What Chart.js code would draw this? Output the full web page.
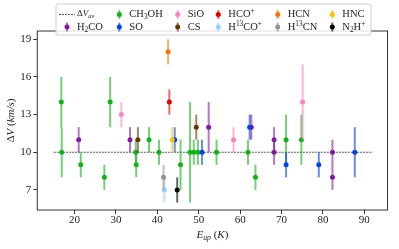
<!DOCTYPE html>
<html>
<head>
<meta charset="utf-8">
<script src="https://cdn.jsdelivr.net/npm/chart.js@4.4.1/dist/chart.umd.min.js"></script>
<style>
html, body { margin: 0; padding: 0; background: #fff; }
#wrap { width: 399px; height: 249px; }
</style>
</head>
<body>
<div id="wrap"><canvas id="grafico"></canvas></div>
<script>
// valores (E_up en K, dV en km/s, error en km/s)
const h2coX = [21.0, 33.4, 52.4, 62.7, 68.2, 68.2, 82.3, 82.3];
const h2coY = [11, 11, 12, 12, 11, 10, 10, 8];
const h2coErr = [1, 1, 2, 1, 1, 1, 1, 1];

const ch3ohX = [16.8, 16.9, 21.5, 27.2, 28.6, 34.8, 34.9, 38.0, 40.4, 45.6, 47.9, 48.8, 49.8, 54.3, 61.9, 63.7, 71.1, 74.8];
const ch3ohY = [14, 10, 9, 8, 14, 10, 9, 11, 10, 9, 10, 10, 10, 10, 10, 8, 11, 11];
const ch3ohErr = [2, 2, 1, 1, 2, 1, 1, 1, 1, 2, 4, 1, 1, 1, 1, 1, 2, 2];

const soX = [44.2, 50.8, 62.3, 71.1, 79.0, 87.7];
const soY = [11, 10, 12, 9, 9, 10];
const soErr = [1, 1, 1, 1, 1, 2];

const sioX = [31.3, 58.4, 75.1];
const sioY = [13, 11, 14];
const sioErr = [1, 1, 3];

const csX = [35.3, 49.4];
const csY = [11, 12];
const csErr = [1, 1];

const hcopX = [42.9];
const hcopY = [14];
const hcopErr = [1];

const h13copX = [41.7];
const h13copY = [7];
const h13copErr = [1];

const hcnX = [42.6];
const hcnY = [18];
const hcnErr = [1];

const h13cnX = [41.5];
const h13cnY = [8];
const h13cnErr = [1];

const hncX = [43.6];
const hncY = [11];
const hncErr = [1];

const n2hpX = [44.8];
const n2hpY = [7];
const n2hpErr = [1];

const promedioX = [15, 92];
const promedioY = 10;

const ticksX = [20, 30, 40, 50, 60, 70, 80, 90];
const ticksY = [7, 10, 13, 16, 19];

const especies = [
    { label: 'H_2CO', color: '#7e1e9c', xs: h2coX, ys: h2coY, err: h2coErr },
    { label: 'CH_3OH', color: '#15b01a', xs: ch3ohX, ys: ch3ohY, err: ch3ohErr },
    { label: 'SO', color: '#0343df', xs: soX, ys: soY, err: soErr },
    { label: 'SiO', color: '#ff81c0', xs: sioX, ys: sioY, err: sioErr },
    { label: 'CS', color: '#653700', xs: csX, ys: csY, err: csErr },
    { label: 'HCO^+', color: '#e50000', xs: hcopX, ys: hcopY, err: hcopErr },
    { label: 'H^{13}CO^+', color: '#95d0fc', xs: h13copX, ys: h13copY, err: h13copErr },
    { label: 'HCN', color: '#f97306', xs: hcnX, ys: hcnY, err: hcnErr },
    { label: 'H^{13}CN', color: '#929591', xs: h13cnX, ys: h13cnY, err: h13cnErr },
    { label: 'HNC', color: '#fac205', xs: hncX, ys: hncY, err: hncErr },
    { label: 'N_2H^+', color: '#000000', xs: n2hpX, ys: n2hpY, err: n2hpErr }
];

const fuente = '"Liberation Serif", "DejaVu Serif", serif';

function conAlfa(hex, a) {
    const n = parseInt(hex.slice(1), 16);
    return `rgba(${(n >> 16) & 255}, ${(n >> 8) & 255}, ${n & 255}, ${a})`;
}

// "CH_3OH" -> segmentos con subindices / superindices
function parseLabel(s) {
    const segs = [];
    let i = 0;
    while (i < s.length) {
        const c = s[i];
        if (c === '_' || c === '^') {
            let t;
            if (s[i + 1] === '{') {
                const j = s.indexOf('}', i);
                t = s.slice(i + 2, j);
                i = j + 1;
            } else {
                t = s[i + 1];
                i += 2;
            }
            segs.push({ t, pos: c === '_' ? 'sub' : 'sup' });
        } else {
            let j = i;
            while (j < s.length && s[j] !== '_' && s[j] !== '^') j++;
            segs.push({ t: s.slice(i, j), pos: 'n' });
            i = j;
        }
    }
    return segs;
}

function fontSeg(seg, size) {
    const sz = seg.pos === 'n' ? size : size * 0.7;
    return `${seg.it ? 'italic ' : ''}${sz}px ${fuente}`;
}

function anchoRich(ctx, segs, size) {
    let w = 0;
    segs.forEach(seg => {
        ctx.font = fontSeg(seg, size);
        w += ctx.measureText(seg.t).width;
    });
    return w;
}

function drawRich(ctx, segs, x, y, size, align) {
    let cx = align === 'center' ? x - anchoRich(ctx, segs, size) / 2 : x;
    ctx.textBaseline = 'middle';
    ctx.textAlign = 'left';
    segs.forEach(seg => {
        ctx.font = fontSeg(seg, size);
        let dy = 0;
        if (seg.pos === 'sub') dy = size * 0.28;
        if (seg.pos === 'sup') dy = -size * 0.32;
        ctx.fillText(seg.t, cx, y + dy);
        cx += ctx.measureText(seg.t).width;
    });
}

const datasets = [{
    type: 'line',
    label: 'promedio',
    data: promedioX.map(x => ({ x, y: promedioY })),
    borderColor: '#333333',
    borderWidth: 0.8,
    borderDash: [2, 1],
    pointRadius: 0,
    order: 20
}];

especies.forEach((e, k) => {
    datasets.push({
        type: 'scatter',
        label: e.label,
        data: e.xs.map((x, i) => ({ x, y: e.ys[i] })),
        yErr: e.err,
        barColor: conAlfa(e.color, 0.6),
        backgroundColor: e.color,
        borderColor: e.color,
        pointRadius: 2.5,
        pointBorderWidth: 0,
        pointHoverRadius: 2.5,
        order: especies.length - k
    });
});

const pluginErrores = {
    id: 'errores',
    beforeDatasetDraw(chart, args) {
        const ds = chart.data.datasets[args.index];
        if (!ds.yErr) return;
        const { ctx, scales: { x, y } } = chart;
        ctx.save();
        ctx.strokeStyle = ds.barColor;
        ctx.lineWidth = 2;
        ds.data.forEach((p, i) => {
            const px = x.getPixelForValue(p.x);
            ctx.beginPath();
            ctx.moveTo(px, y.getPixelForValue(p.y - ds.yErr[i]));
            ctx.lineTo(px, y.getPixelForValue(p.y + ds.yErr[i]));
            ctx.stroke();
        });
        ctx.restore();
    }
};

const pluginMarco = {
    id: 'marco',
    afterDraw(chart) {
        const { ctx, chartArea: a } = chart;
        ctx.save();
        ctx.strokeStyle = '#333333';
        ctx.lineWidth = 1;
        ctx.strokeRect(a.left, a.top, a.right - a.left, a.bottom - a.top);

        // titulos de los ejes
        ctx.fillStyle = '#222222';
        drawRich(ctx, [
            { t: 'E', it: true, pos: 'n' },
            { t: 'up', it: true, pos: 'sub' },
            { t: ' (', pos: 'n' },
            { t: 'K', it: true, pos: 'n' },
            { t: ')', pos: 'n' }
        ], (a.left + a.right) / 2, 235, 11, 'center');

        ctx.save();
        ctx.translate(11.5, (a.top + a.bottom) / 2);
        ctx.rotate(-Math.PI / 2);
        drawRich(ctx, [
            { t: 'Δ', pos: 'n' },
            { t: 'V', it: true, pos: 'n' },
            { t: ' (', pos: 'n' },
            { t: 'km/s', it: true, pos: 'n' },
            { t: ')', pos: 'n' }
        ], 0, 0, 11, 'center');
        ctx.restore();

        // leyenda
        const bx = 56, by = 4, bw = 315, bh = 31;
        ctx.beginPath();
        ctx.roundRect(bx, by, bw, bh, 2);
        ctx.fillStyle = 'rgba(255,255,255,0.85)';
        ctx.fill();
        ctx.strokeStyle = '#cccccc';
        ctx.lineWidth = 1;
        ctx.stroke();

        const colMarca = [67, 119.3, 177.7, 218.3, 277.7, 332.3];
        const filaY = [14.5, 27];
        const items = [{ promedio: true }].concat(especies);
        items.forEach((it, k) => {
            const col = Math.floor(k / 2);
            const fila = k % 2;
            const mx = colMarca[col];
            const my = filaY[fila];
            if (it.promedio) {
                ctx.strokeStyle = '#333333';
                ctx.lineWidth = 0.8;
                ctx.setLineDash([2, 1]);
                ctx.beginPath();
                ctx.moveTo(mx - 8, my);
                ctx.lineTo(mx + 8, my);
                ctx.stroke();
                ctx.setLineDash([]);
                ctx.fillStyle = '#222222';
                drawRich(ctx, [
                    { t: 'Δ', pos: 'n' },
                    { t: 'V', it: true, pos: 'n' },
                    { t: 'av', it: true, pos: 'sub' }
                ], mx + 10, my - 1, 9, 'left');
                return;
            }
            ctx.strokeStyle = conAlfa(it.color, 0.6);
            ctx.lineWidth = 2;
            ctx.beginPath();
            ctx.moveTo(mx, my - 4.5);
            ctx.lineTo(mx, my + 4.5);
            ctx.stroke();
            ctx.fillStyle = it.color;
            ctx.beginPath();
            ctx.arc(mx, my, 2.5, 0, Math.PI * 2);
            ctx.fill();
            ctx.fillStyle = '#222222';
            drawRich(ctx, parseLabel(it.label), mx + 10, my, 10.5, 'left');
        });
        ctx.restore();
    }
};

const configurar = {
    data: { datasets },
    options: {
        responsive: true,
        maintainAspectRatio: false,
        animation: false,
        events: [],
        layout: { padding: { left: 0, top: 31, right: 11.5, bottom: 0 }, autoPadding: false },
        plugins: { legend: { display: false }, tooltip: { enabled: false } },
        scales: {
            x: {
                type: 'linear',
                min: 11,
                max: 95.6,
                afterBuildTicks: s => { s.ticks = ticksX.map(v => ({ value: v })); },
                afterFit: s => { s.height = 39; },
                border: { display: false },
                grid: { drawOnChartArea: false, drawTicks: true, tickLength: 4, color: '#333333' },
                ticks: { padding: 0, color: '#222222', font: { family: fuente, size: 11 } }
            },
            y: {
                type: 'linear',
                min: 5.4,
                max: 19.66,
                afterBuildTicks: s => { s.ticks = ticksY.map(v => ({ value: v })); },
                afterFit: s => { s.width = 37.3; },
                border: { display: false },
                grid: { drawOnChartArea: false, drawTicks: true, tickLength: 4, color: '#333333' },
                ticks: { padding: 2, color: '#222222', font: { family: fuente, size: 11 } }
            }
        }
    },
    plugins: [pluginErrores, pluginMarco]
};

const myChart = new Chart(document.getElementById('grafico'), configurar);
</script>
</body>
</html>
